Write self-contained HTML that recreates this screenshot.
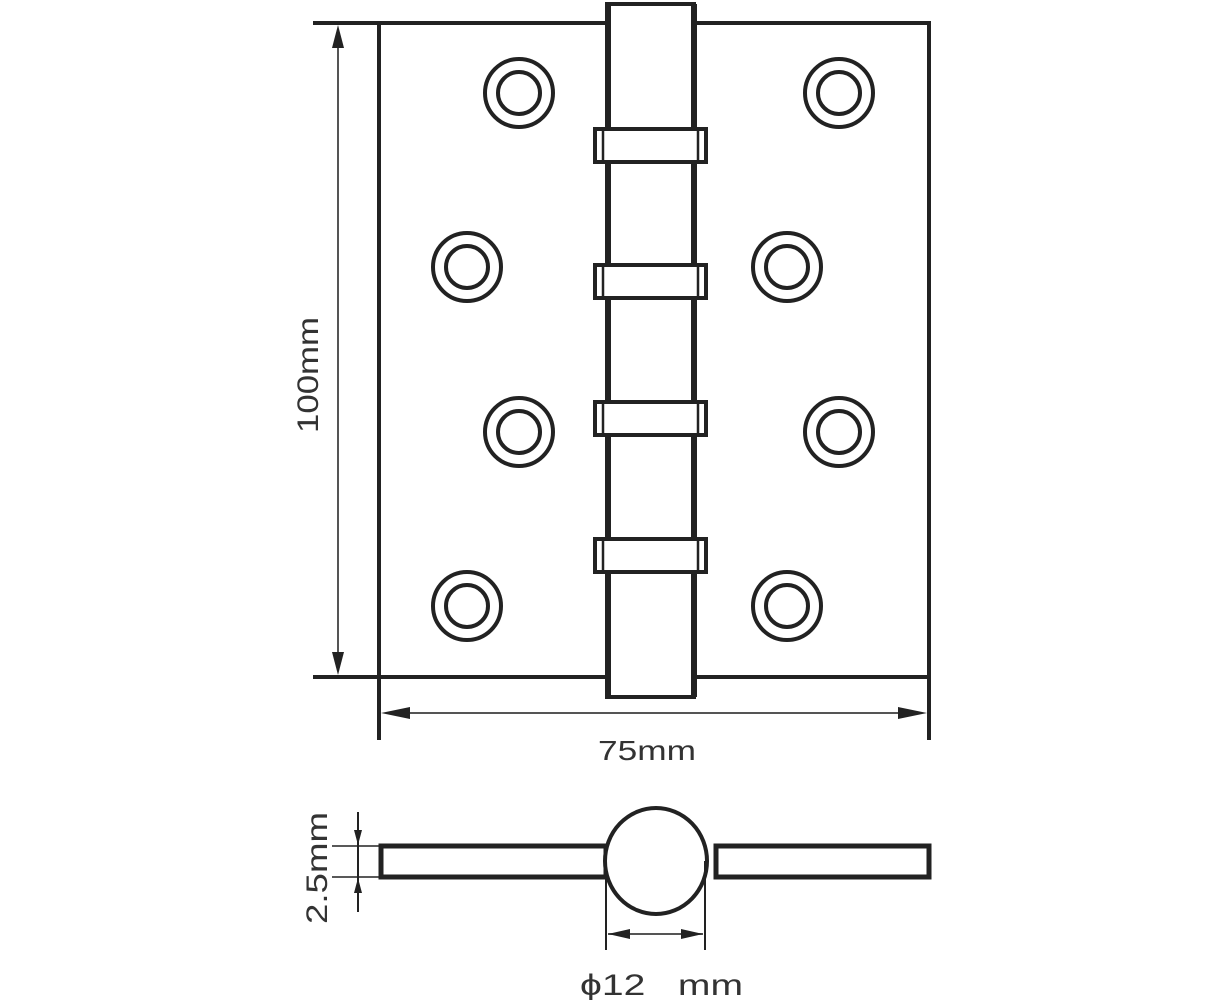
<!DOCTYPE html>
<html><head><meta charset="utf-8"><style>html,body{margin:0;padding:0;background:#fff;}svg{display:block}</style></head>
<body>
<svg width="1223" height="1000" viewBox="0 0 1223 1000" xmlns="http://www.w3.org/2000/svg">
<g fill="none" stroke="#222">
<!-- plate -->
<line x1="313" y1="23" x2="930" y2="23" stroke-width="4"/>
<line x1="313" y1="677" x2="930" y2="677" stroke-width="4"/>
<line x1="379" y1="23" x2="379" y2="740" stroke-width="4"/>
<line x1="929" y1="23" x2="929" y2="740" stroke-width="4"/>
<rect x="379" y="23" width="550" height="654" stroke-width="4"/>
<!-- barrel -->
<rect x="607" y="4" width="87" height="693" fill="#fff" stroke-width="4"/>
<line x1="608" y1="4" x2="608" y2="697" stroke-width="6"/>
<line x1="694" y1="4" x2="694" y2="697" stroke-width="6"/>
<g stroke-width="4" fill="#fff">
<rect x="595" y="129" width="111" height="33"/>
<rect x="595" y="265" width="111" height="33"/>
<rect x="595" y="402" width="111" height="33"/>
<rect x="595" y="539" width="111" height="33"/>
</g>
<g stroke-width="2.5">
<line x1="603" y1="129" x2="603" y2="162"/><line x1="698" y1="129" x2="698" y2="162"/>
<line x1="603" y1="265" x2="603" y2="298"/><line x1="698" y1="265" x2="698" y2="298"/>
<line x1="603" y1="402" x2="603" y2="435"/><line x1="698" y1="402" x2="698" y2="435"/>
<line x1="603" y1="539" x2="603" y2="572"/><line x1="698" y1="539" x2="698" y2="572"/>
</g>
<!-- holes -->
<g stroke-width="4">
<circle cx="519" cy="93" r="34"/><circle cx="519" cy="93" r="21"/>
<circle cx="839" cy="93" r="34"/><circle cx="839" cy="93" r="21"/>
<circle cx="467" cy="267" r="34"/><circle cx="467" cy="267" r="21"/>
<circle cx="787" cy="267" r="34"/><circle cx="787" cy="267" r="21"/>
<circle cx="519" cy="432" r="34"/><circle cx="519" cy="432" r="21"/>
<circle cx="839" cy="432" r="34"/><circle cx="839" cy="432" r="21"/>
<circle cx="467" cy="606" r="34"/><circle cx="467" cy="606" r="21"/>
<circle cx="787" cy="606" r="34"/><circle cx="787" cy="606" r="21"/>
</g>
<!-- dims -->
<line x1="338" y1="30" x2="338" y2="670" stroke-width="2" stroke="#555"/>
<line x1="386" y1="713" x2="922" y2="713" stroke-width="2" stroke="#555"/>
<!-- bottom view -->
<rect x="381" y="846" width="225" height="31" stroke-width="5"/>
<rect x="716" y="846" width="213" height="31" stroke-width="5"/>
<ellipse cx="656" cy="861" rx="51" ry="53" stroke-width="4" fill="#fff"/>
<line x1="606" y1="861" x2="606" y2="950" stroke-width="2"/>
<line x1="705" y1="861" x2="705" y2="950" stroke-width="2"/>
<line x1="608" y1="934" x2="703" y2="934" stroke-width="2" stroke="#555"/>
<line x1="358" y1="812" x2="358" y2="912" stroke-width="2"/>
<line x1="332" y1="846" x2="381" y2="846" stroke-width="1.5"/>
<line x1="332" y1="877" x2="381" y2="877" stroke-width="1.5"/>
</g>
<g fill="#222">
<polygon points="338,25 332,48 344,48"/>
<polygon points="338,675 332,652 344,652"/>
<polygon points="381,713 410,707 410,719"/>
<polygon points="927,713 898,707 898,719"/>
<polygon points="608,934 630,929 630,939"/>
<polygon points="703,934 681,929 681,939"/>
<polygon points="358,845 354,830 362,830"/>
<polygon points="358,878 354,893 362,893"/>
</g>
<g font-family="Liberation Sans, sans-serif" fill="#333">
<text x="647" y="760" font-size="28" text-anchor="middle" textLength="98" lengthAdjust="spacingAndGlyphs">75mm</text>
<text transform="translate(318,375) rotate(-90)" font-size="30" text-anchor="middle" textLength="116" lengthAdjust="spacingAndGlyphs">100mm</text>
<text transform="translate(327,868) rotate(-90)" font-size="30" text-anchor="middle" textLength="112" lengthAdjust="spacingAndGlyphs">2.5mm</text>
<text x="580" y="995" font-size="30" textLength="163" lengthAdjust="spacingAndGlyphs">ϕ12&#160;&#160;&#160;mm</text>
</g>
</svg>
</body></html>
